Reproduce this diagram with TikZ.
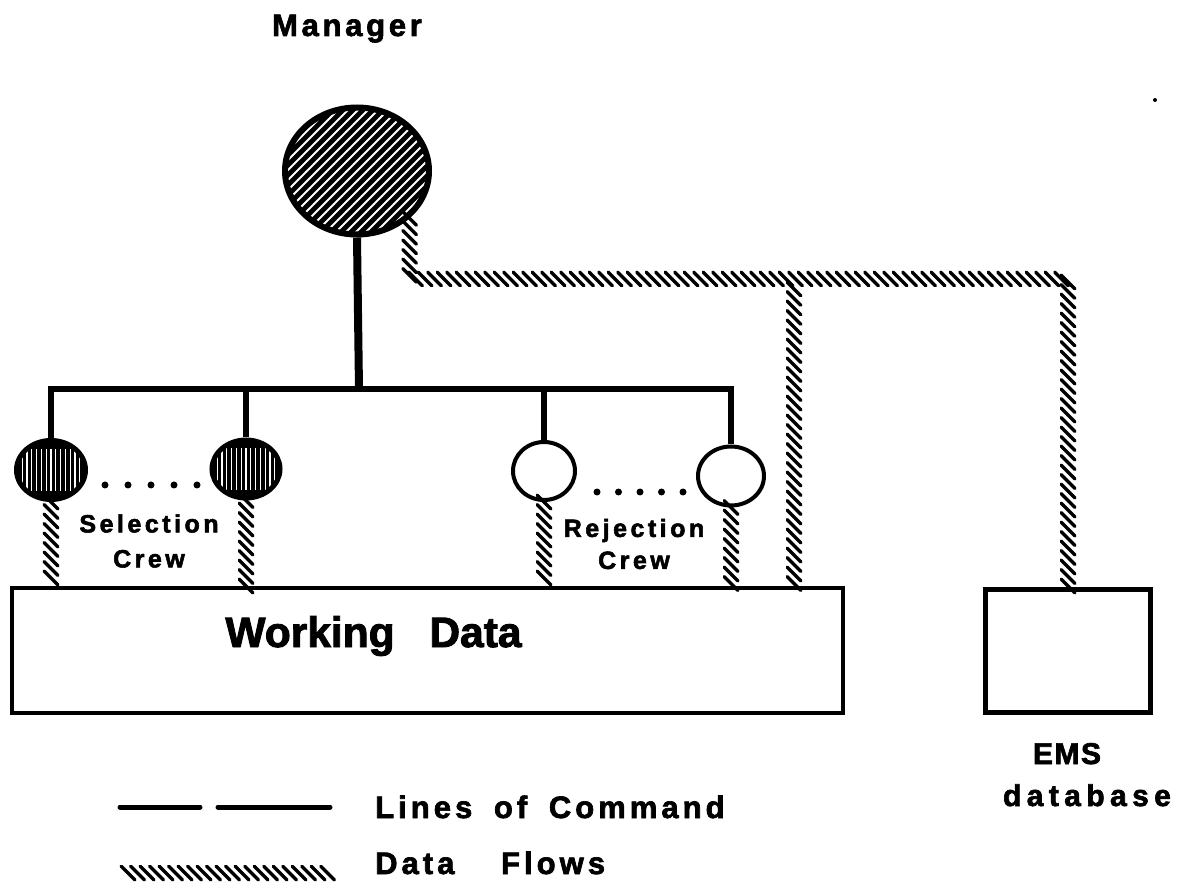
\documentclass[tikz,border=0pt]{standalone}
\usepackage{fontspec}
\setmainfont{Liberation Sans}
\usetikzlibrary{shapes.geometric,decorations.markings,calc}
% size, leading, tracking (percent of the size); heavy poster lettering
\newcommand\setfnt[3]{\fontsize{#1}{#2}\selectfont\addfontfeature{LetterSpace=#3,FakeBold=2.2}}
\begin{document}
\begin{tikzpicture}[x=1pt,y=-1pt,
  cmd/.style={line width=5.5pt, line join=miter},
  cmdmain/.style={line width=8pt},
  flow/.style={decoration={markings,
      mark=between positions 0 and 1 step 9.5pt with {%
        \pgftransformresetnontranslations
        \draw[line width=3.4pt, line cap=round] (-6.8pt,6.8pt) -- (6.8pt,-6.8pt);}},
    decorate},
  store/.style={draw, rectangle, line width=4pt, inner sep=0pt},
  chief/.style={ellipse, draw, line width=6pt, fill=black, inner sep=0pt,
    path picture={\foreach \k in {-16,...,16}
      \draw[white, line width=1.8pt]
        ($(path picture bounding box.center)+(\k*10pt-100pt,-100pt)$) -- ++(200pt,200pt);}},
  selcrew/.style={ellipse, draw, line width=5pt, fill=black, inner sep=0pt,
    path picture={\foreach \k in {-6,...,6}
      \draw[white, line width=1.3pt]
        ($(path picture bounding box.center)+(\k*4.8pt,-21pt)$) -- ++(0pt,42pt);}},
  rejcrew/.style={ellipse, draw, line width=4pt, fill=white, inner sep=0pt},
  dot/.style={circle, fill=black, inner sep=0pt, minimum size=7pt},
  txt/.style={inner sep=0pt}
]
\useasboundingbox (0,0) rectangle (1179,890);

% manager
\node[txt, anchor=base, font={\bfseries\setfnt{31}{36}{12}}] (mgrlabel) at (347,36) {Manager};
\node[chief, minimum width=144pt, minimum height=127pt] (mgr) at (357,171) {};

% crews
\node[selcrew, minimum width=69pt, minimum height=59pt] (s1) at (51,470) {};
\node[selcrew, minimum width=68pt, minimum height=58pt] (s2) at (246,469) {};
\node[rejcrew, minimum width=62pt, minimum height=58pt] (r1) at (544,471) {};
\node[rejcrew, minimum width=66pt, minimum height=59pt] (r2) at (731,476) {};

\foreach \x [count=\i] in {105,128,151,174,197}
  \node[dot] (sd\i) at (\x,485) {};
\foreach \x [count=\i] in {597,618.5,640,661.5,683}
  \node[dot] (rd\i) at (\x,492) {};

\node[txt, align=center, font={\bfseries\setfnt{25}{35}{14}}] (sellabel) at (149,541) {Selection\\Crew};
\node[txt, align=center, font={\bfseries\setfnt{25}{32}{14}}] (rejlabel) at (634,544) {Rejection\\Crew};

% data stores
\node[store, minimum width=831pt, minimum height=125pt] (wd) at (427.5,650.5) {};
\node[txt, anchor=base, font={\bfseries\setfnt{42.5}{50}{0}}] (wdlabel) at (373.5,647) {Working\hspace{23pt} Data};
\node[store, line width=5pt, minimum width=165pt, minimum height=123pt] (ems) at (1068,651) {};
\node[txt, anchor=base, font={\bfseries\setfnt{30}{35}{5}}] (emslabel) at (1067,764) {EMS};
\node[txt, anchor=base, font={\bfseries\setfnt{30}{35}{18}}] (dblabel) at (1087,806) {database};

% lines of command
\coordinate (cbus) at (359,389);
\draw[cmdmain] (mgr.south) -- (cbus);
\draw[cmd] (s1.north) |- (cbus) -| (r2.north);
\draw[cmd] (s2.north) -- (s2.north |- cbus);
\draw[cmd] (r1.north) -- (r1.north |- cbus);

% data flows
\coordinate (jn) at (794,279);
\path[flow] (mgr.-42) |- (jn) -| (ems.north);
\path[flow] ($(jn)+(0,10)$) -- (jn |- wd.north);
\path[flow] (s1.south) -- (s1.south |- wd.north);
\path[flow] (s2.south) -- (s2.south |- wd.north);
\path[flow] (r1.south) -- (r1.south |- wd.north);
\path[flow] (r2.south) -- (r2.south |- wd.north);

% legend
\coordinate (lc1) at (120,807);
\coordinate (lc2) at (200,807);
\coordinate (lc3) at (218,807);
\coordinate (lc4) at (330,807);
\draw[line width=5pt, line cap=round] (lc1) -- (lc2);
\draw[line width=5pt, line cap=round] (lc3) -- (lc4);
\node[txt, anchor=base west, font={\bfseries\setfnt{31}{36}{13}}] (cmdlabel) at (375,818) {Lines\hspace{9pt} of\hspace{9pt} Command};
\coordinate (lf1) at (128,873);
\coordinate (lf2) at (330,873);
\path[flow] (lf1) -- (lf2);
\node[txt, anchor=base west, font={\bfseries\setfnt{31}{36}{13}}] (flowlabel) at (375,874) {Data\hspace{34pt} Flows};

% speck at the upper right
\node[circle, fill=black, inner sep=0pt, minimum size=4pt] (speck) at (1155,100) {};
\end{tikzpicture}
\end{document}
